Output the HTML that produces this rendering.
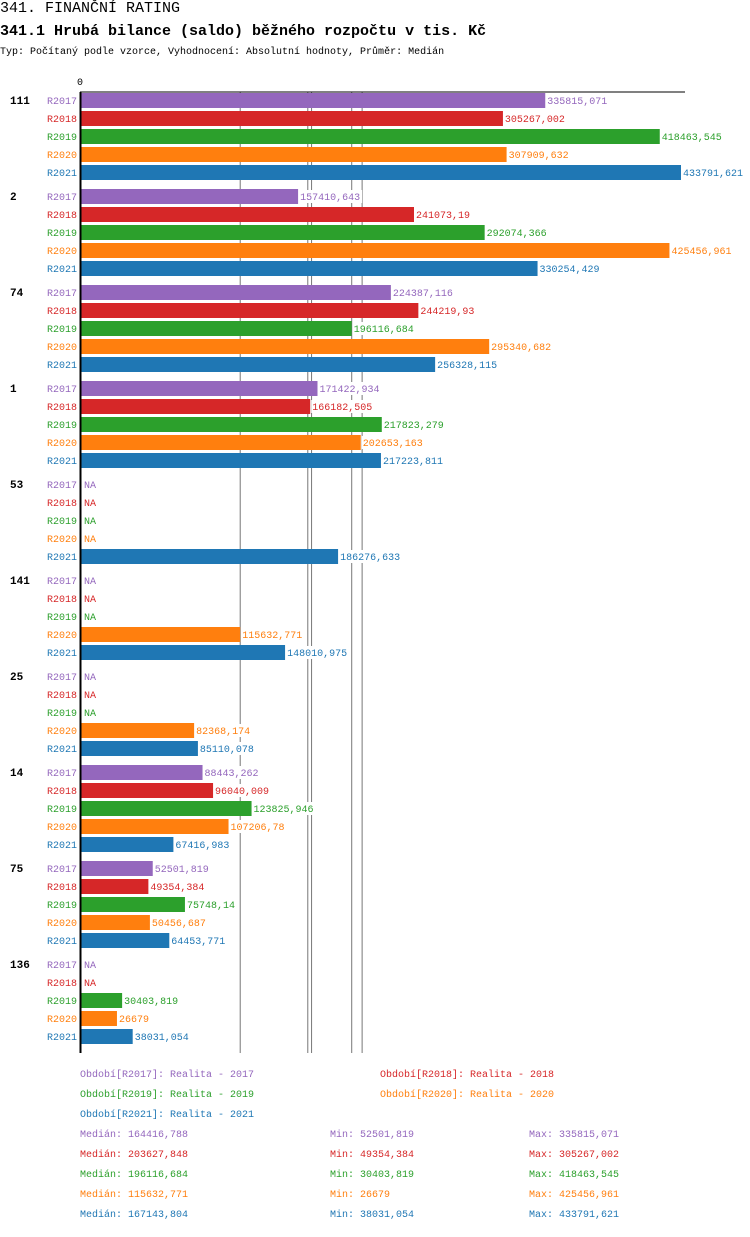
<!DOCTYPE html>
<html><head><meta charset="utf-8"><style>
body{margin:0;background:#fff;font-family:"Liberation Mono",monospace;}
svg text{font-family:"Liberation Mono","DejaVu Sans Mono",monospace;}
</style></head><body>
<svg id="c" width="750" height="1232" xmlns="http://www.w3.org/2000/svg">
<text x="0" y="12" font-size="15">341. FINANČNÍ RATING</text>
<text x="0" y="35" font-size="15" font-weight="bold">341.1 Hrubá bilance (saldo) běžného rozpočtu v tis. Kč</text>
<text x="0" y="54" font-size="10">Typ: Počítaný podle vzorce, Vyhodnocení: Absolutní hodnoty, Průměr: Medián</text>
<text x="80" y="85" font-size="10" text-anchor="middle">0</text>
<g id="lines"></g><g id="bars"></g>
<line x1="80" y1="92" x2="685" y2="92" stroke="#000"/>
<line x1="80.5" y1="92" x2="80.5" y2="1053" stroke="#000" stroke-width="2"/>
<g id="legend" font-size="10"></g>
</svg>
<script>
const groups=["111","2","74","1","53","141","25","14","75","136"];
const series=["R2017","R2018","R2019","R2020","R2021"];
const colors=["#9467bd","#d62728","#2ca02c","#ff7f0e","#1f77b4"];
const v2017=[335815.071,157410.643,224387.116,171422.934,null,null,null,88443.262,52501.819,null];
const v2018=[305267.002,241073.19,244219.93,166182.505,null,null,null,96040.009,49354.384,null];
const v2019=[418463.545,292074.366,196116.684,217823.279,null,null,null,123825.946,75748.14,30403.819];
const v2020=[307909.632,425456.961,295340.682,202653.163,null,115632.771,82368.174,107206.78,50456.687,26679];
const v2021=[433791.621,330254.429,256328.115,217223.811,186276.633,148010.975,85110.078,67416.983,64453.771,38031.054];
const medians=[164416.788,203627.848,196116.684,115632.771,167143.804];
const mins=[52501.819,49354.384,30403.819,26679,38031.054];
const maxs=[335815.071,305267.002,418463.545,425456.961,433791.621];
const vals=[v2017,v2018,v2019,v2020,v2021];
const NS="http://www.w3.org/2000/svg";
const X=v=>80+v*601/433791.621;
const Y=(g,i)=>100+g*96+i*18;
const fmt=v=>String(v).replace('.',',');
function mk(t,a,p,txt){const e=document.createElementNS(NS,t);for(const k in a)e.setAttribute(k,a[k]);if(txt!=null)e.textContent=txt;p.appendChild(e);return e;}
const L=document.getElementById('lines'),B=document.getElementById('bars'),G=document.getElementById('legend');
medians.forEach((m,i)=>{const l=mk('line',{x1:X(m),x2:X(m),y1:92,y2:1053,stroke:'#777','stroke-width':1},L);

});
groups.forEach((g,gi)=>{
 const gl=mk('text',{x:10,y:Y(gi,0)+4,'font-size':11,'font-weight':'bold'},B,g);
 
 
 series.forEach((s,si)=>{
  const y=Y(gi,si);const v=vals[si][gi];
  const sl=mk('text',{x:77,y:y+4,'font-size':10,'text-anchor':'end',fill:colors[si]},B,s);
  
  
  if(v!=null){
   const r=mk('rect',{x:81,y:y-7,width:X(v)-81,height:15,fill:colors[si]},B);
   
   
   mk('rect',{x:X(v)+1,y:y-6,width:fmt(v).length*6+3,height:13,fill:'#fff'},B);
   const t=mk('text',{x:X(v)+2,y:y+4,'font-size':10,fill:colors[si]},B,fmt(v));
   
   
  } else {
   const t=mk('text',{x:84,y:y+4,'font-size':10,fill:colors[si]},B,'NA');
   
   
  }
 });
});
const legPos=[[80,1077],[380,1077],[80,1097],[380,1097],[80,1117]];
series.forEach((s,i)=>{
 const t=mk('text',{x:legPos[i][0],y:legPos[i][1],fill:colors[i]},G,'Období['+s+']: Realita - '+s.slice(1));
 
 
 const y=1137+i*20;
 const a=mk('text',{x:80,y:y,fill:colors[i]},G,'Medián: '+fmt(medians[i]));
 
 
 const b=mk('text',{x:330,y:y,fill:colors[i]},G,'Min: '+fmt(mins[i]));
 
 
 const c=mk('text',{x:529,y:y,fill:colors[i]},G,'Max: '+fmt(maxs[i]));
 
 
});
</script>
</body></html>
